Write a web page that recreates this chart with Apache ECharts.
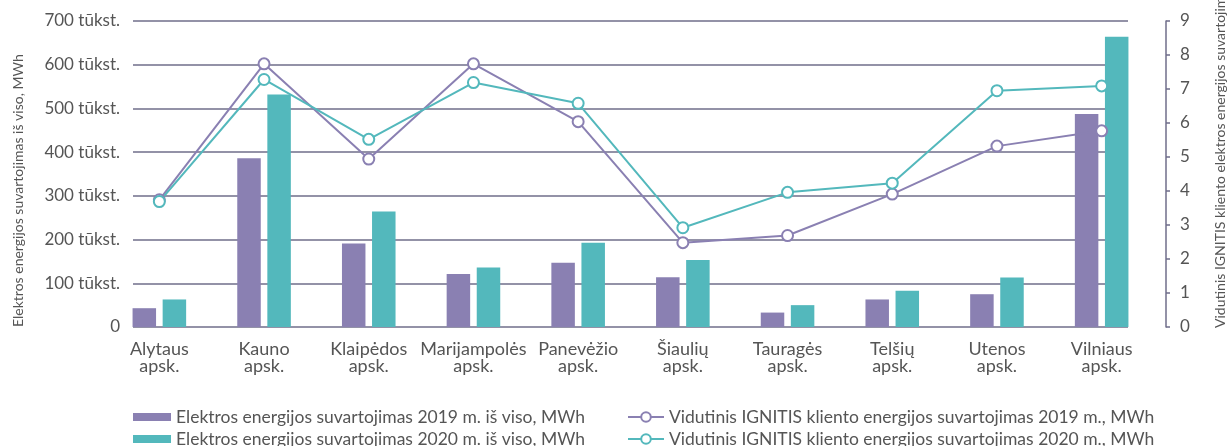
<!DOCTYPE html>
<html>
<head>
<meta charset="utf-8">
<script src="https://cdn.jsdelivr.net/npm/echarts@6/dist/echarts.min.js"></script>
<style>
html,body{margin:0;padding:0;background:#fff;}
#c{width:1228px;height:446px;}
</style>
</head>
<body>
<div id="c"></div>
<script>
const categories = ['Alytaus\napsk.', 'Kauno\napsk.', 'Klaipėdos\napsk.', 'Marijampolės\napsk.', 'Panevėžio\napsk.', 'Šiaulių\napsk.', 'Tauragės\napsk.', 'Telšių\napsk.', 'Utenos\napsk.', 'Vilniaus\napsk.'];
const total2019 = [43, 386, 191, 121, 147, 114, 33, 63, 75, 487];
const total2020 = [63, 532, 264, 136, 193, 153, 50, 83, 113, 664];
const avg2019 = [3.74, 7.74, 4.94, 7.74, 6.04, 2.48, 2.69, 3.91, 5.32, 5.77];
const avg2020 = [3.69, 7.28, 5.52, 7.19, 6.58, 2.92, 3.96, 4.23, 6.95, 7.09];
const leftTicks = [0, 100, 200, 300, 400, 500, 600, 700];
const rightTicks = [0, 1, 2, 3, 4, 5, 6, 7, 8, 9];
const seriesNames = [
  'Elektros energijos suvartojimas 2019 m. iš viso, MWh',
  'Elektros energijos suvartojimas 2020 m. iš viso, MWh',
  'Vidutinis IGNITIS kliento energijos suvartojimas 2019 m., MWh',
  'Vidutinis IGNITIS kliento energijos suvartojimas 2020 m., MWh'
];
const leftAxisName = 'Elektros energijos suvartojimas iš viso, MWh';
const rightAxisName = 'Vidutinis IGNITIS kliento elektros energijos suvartojimas, MWh';

const FONT = 'Lato';
const PURPLE = '#8a80b2';
const TEAL = '#53b8bc';
const GRID = '#6f6e8a';
const TXT = '#555555';

function legendFor(i, left, top, isBar) {
  const base = {data: [seriesNames[i]], orient: 'horizontal', left: left, top: top,
    itemGap: 0, padding: 0,
    textStyle: {color: TXT, fontSize: 17.5, fontFamily: FONT}};
  if (isBar) {
    base.icon = 'rect'; base.itemWidth = 38; base.itemHeight = 8;
  } else {
    base.itemWidth = 36; base.itemHeight = 12;
  }
  return base;
}

const chart = echarts.init(document.getElementById('c'));
chart.setOption({
  backgroundColor: '#fff',
  textStyle: {fontFamily: FONT},
  grid: [
    {left: 107, right: 74, top: 21, bottom: 119},
    {left: 133, right: 100, top: 21, bottom: 119}
  ],
  xAxis: [
    {type: 'category', gridIndex: 0, data: categories,
     axisLine: {show: false}, axisTick: {show: false},
     axisLabel: {color: TXT, fontSize: 18, lineHeight: 17, margin: 14, fontFamily: FONT, interval: 0}},
    {type: 'value', gridIndex: 1, min: 0, max: 1, show: false}
  ],
  yAxis: [
    {type: 'value', gridIndex: 0, min: 0, max: 700, interval: 100, show: false},
    {type: 'value', gridIndex: 0, position: 'right', offset: 12, min: 0, max: 9, interval: 1,
     axisLine: {show: true, lineStyle: {color: GRID, width: 1.5}},
     axisTick: {show: true, length: 4, lineStyle: {color: GRID, width: 1.5}},
     splitLine: {show: false},
     axisLabel: {color: TXT, fontSize: 17, margin: 14, fontFamily: FONT,
       formatter: v => rightTicks.includes(v) ? String(v) : ''}},
    {type: 'value', gridIndex: 1, min: 0, max: 700, interval: 100,
     axisLine: {show: false}, axisTick: {show: false},
     splitLine: {show: true, lineStyle: {color: GRID, width: 1.5}},
     axisLabel: {color: TXT, fontSize: 17, margin: 13, fontFamily: FONT,
       formatter: v => leftTicks.includes(v) ? (v === 0 ? '0' : v + ' tūkst.') : ''}}
  ],
  legend: [
    legendFor(0, 133, 408, true),
    legendFor(1, 133, 430, true),
    legendFor(2, 627, 408, false),
    legendFor(3, 627, 430, false)
  ],
  graphic: [
    {type: 'text', x: 18, y: 327, rotation: Math.PI / 2, silent: true,
     style: {text: leftAxisName, fill: TXT, fontSize: 14, fontFamily: FONT, align: 'left', verticalAlign: 'middle'}},
    {type: 'text', x: 1220, y: 328, rotation: Math.PI / 2, silent: true,
     style: {text: rightAxisName, fill: TXT, fontSize: 14, fontFamily: FONT, align: 'left', verticalAlign: 'middle'}}
  ],
  series: [
    {name: seriesNames[0], type: 'bar', xAxisIndex: 0, yAxisIndex: 0, data: total2019,
     barWidth: 23.5, barGap: '28%', itemStyle: {color: PURPLE}, z: 3},
    {name: seriesNames[1], type: 'bar', xAxisIndex: 0, yAxisIndex: 0, data: total2020,
     barWidth: 23.5, barGap: '28%', itemStyle: {color: TEAL}, z: 3},
    {name: seriesNames[2], type: 'line', xAxisIndex: 0, yAxisIndex: 1, data: avg2019,
     symbol: 'circle', symbolSize: 11, z: 5,
     lineStyle: {color: PURPLE, width: 2},
     itemStyle: {color: '#fff', borderColor: PURPLE, borderWidth: 2}},
    {name: seriesNames[3], type: 'line', xAxisIndex: 0, yAxisIndex: 1, data: avg2020,
     symbol: 'circle', symbolSize: 11, z: 5,
     lineStyle: {color: TEAL, width: 2},
     itemStyle: {color: '#fff', borderColor: TEAL, borderWidth: 2}}
  ],
  animation: false
});
</script>
</body>
</html>
